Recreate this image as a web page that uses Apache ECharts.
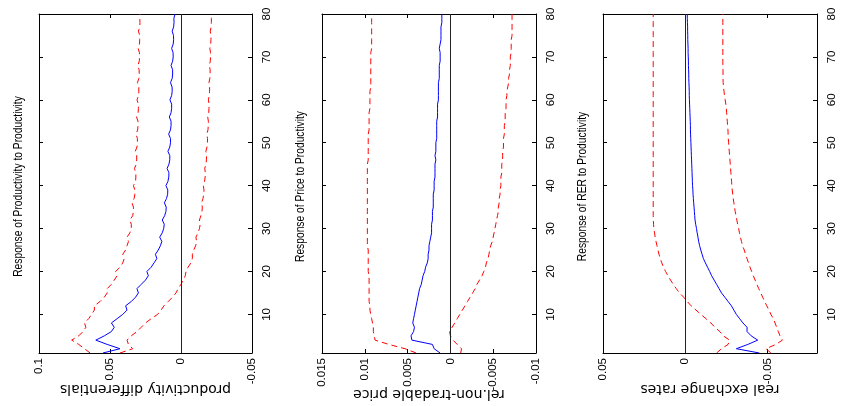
<!DOCTYPE html>
<html>
<head>
<meta charset="utf-8">
<script src="https://cdn.jsdelivr.net/npm/echarts@6/dist/echarts.min.js"></script>
<style>html,body{margin:0;padding:0;background:#fff;}#c{width:842px;height:406px;}</style>
</head>
<body>
<div id="c"></div>
<script>
// Horizons (quarters after shock)
const horizons = Array.from({length: 80}, (_, i) => i + 1);
const horizonTicks = [10, 20, 30, 40, 50, 60, 70, 80];

// Panel 1: Response of Productivity to Productivity
const prodIrf = [
  0.055, 0.043, 0.052, 0.060, 0.054, 0.049, 0.047, 0.049, 0.045, 0.041,
  0.038, 0.039, 0.035, 0.032, 0.030, 0.031, 0.028, 0.025, 0.023, 0.024,
  0.021, 0.019, 0.017, 0.018, 0.016, 0.0145, 0.0135, 0.0150, 0.0132, 0.0122,
  0.0118, 0.0132, 0.0115, 0.0106, 0.0104, 0.0117, 0.0102, 0.0094, 0.0093, 0.0106,
  0.0092, 0.0086, 0.0085, 0.0098, 0.0085, 0.0079, 0.0079, 0.0092, 0.0079, 0.0074,
  0.0074, 0.0087, 0.0074, 0.0070, 0.0070, 0.0082, 0.0070, 0.0066, 0.0066, 0.0078,
  0.0066, 0.0062, 0.0063, 0.0074, 0.0062, 0.0059, 0.0059, 0.0070, 0.0059, 0.0055,
  0.0056, 0.0066, 0.0055, 0.0052, 0.0053, 0.0062, 0.0052, 0.0049, 0.0050, 0.0042
];
const prodUpper = [
  0.064, 0.068, 0.072, 0.077, 0.072, 0.069, 0.067, 0.068, 0.065, 0.063,
  0.061, 0.061, 0.057, 0.054, 0.052, 0.052, 0.049, 0.047, 0.045, 0.046,
  0.043, 0.041, 0.040, 0.041, 0.039, 0.038, 0.037, 0.038, 0.036, 0.035,
  0.035, 0.036, 0.034, 0.0335, 0.0335, 0.0345, 0.033, 0.0325, 0.0325, 0.0335,
  0.032, 0.0318, 0.0318, 0.0328, 0.0315, 0.0312, 0.0312, 0.0322, 0.031, 0.0307,
  0.0307, 0.0317, 0.0305, 0.0303, 0.0303, 0.0313, 0.0302, 0.0300, 0.0300, 0.0310,
  0.0299, 0.0297, 0.0297, 0.0307, 0.0296, 0.0294, 0.0295, 0.0304, 0.0294, 0.0292,
  0.0293, 0.0302, 0.0292, 0.0291, 0.0291, 0.0300, 0.0290, 0.0289, 0.0290, 0.0290
];
const prodLower = [
  0.043, 0.034, 0.037, 0.038, 0.035, 0.031, 0.028, 0.025, 0.021, 0.0165,
  0.014, 0.012, 0.009, 0.006, 0.0035, 0.002, 0.000, -0.0015, -0.003, -0.0035,
  -0.005, -0.007, -0.008, -0.008, -0.009, -0.0103, -0.011, -0.0105, -0.012, -0.013,
  -0.0135, -0.013, -0.014, -0.0148, -0.015, -0.0145, -0.0155, -0.016, -0.0162, -0.0157,
  -0.0166, -0.017, -0.0172, -0.0167, -0.0176, -0.0179, -0.018, -0.0175, -0.0183, -0.0186,
  -0.0187, -0.0182, -0.019, -0.0192, -0.0193, -0.0188, -0.0195, -0.0197, -0.0198, -0.0193,
  -0.0199, -0.0201, -0.0202, -0.0197, -0.0203, -0.0205, -0.0205, -0.0200, -0.0206, -0.0208,
  -0.0208, -0.0203, -0.0209, -0.0211, -0.0211, -0.0206, -0.0212, -0.0214, -0.0214, -0.0216
];

// Panel 2: Response of Price to Productivity
const priceIrf = [
  0.0012, 0.0019, 0.0021, 0.0045, 0.0046, 0.0043, 0.0042, 0.0044, 0.0043, 0.0042,
  0.0041, 0.0040, 0.0039, 0.0038, 0.0037, 0.0036, 0.0034, 0.0033, 0.0032, 0.0030,
  0.0029, 0.0027, 0.0026, 0.0026, 0.0025, 0.0025, 0.0024, 0.0023, 0.0022, 0.0022,
  0.0022, 0.0021, 0.0021, 0.0021, 0.0020, 0.0020, 0.0020, 0.0020, 0.0019, 0.0019,
  0.0019, 0.0018, 0.0018, 0.0018, 0.0018, 0.0017, 0.0018, 0.0017, 0.0017, 0.0017,
  0.0016, 0.0016, 0.0016, 0.0016, 0.0016, 0.0015, 0.0015, 0.0015, 0.0015, 0.0014,
  0.0014, 0.0014, 0.0014, 0.0014, 0.0013, 0.0013, 0.0013, 0.0013, 0.0012, 0.0012,
  0.0012, 0.0013, 0.0012, 0.0011, 0.0011, 0.0011, 0.0011, 0.0010, 0.0010, 0.0010
];
const priceUpper = [
  0.0040, 0.0053, 0.0072, 0.0088, 0.0089, 0.0090, 0.0090, 0.0091, 0.0092, 0.0093,
  0.0094, 0.0094, 0.0095, 0.0095, 0.0095, 0.0095, 0.0095, 0.0095, 0.0095, 0.0096,
  0.0096, 0.0096, 0.0096, 0.0096, 0.0096, 0.0097, 0.0097, 0.0097, 0.0097, 0.0097,
  0.0097, 0.0097, 0.0097, 0.0097, 0.0097, 0.0097, 0.0097, 0.0097, 0.0097, 0.0097,
  0.0097, 0.0097, 0.0097, 0.0097, 0.0097, 0.0096, 0.0096, 0.0096, 0.0096, 0.0096,
  0.0096, 0.0096, 0.0095, 0.0095, 0.0095, 0.0095, 0.0095, 0.0094, 0.0094, 0.0094,
  0.0094, 0.0094, 0.0093, 0.0093, 0.0093, 0.0093, 0.0093, 0.0093, 0.0093, 0.0093,
  0.0093, 0.0092, 0.0092, 0.0092, 0.0092, 0.0092, 0.0092, 0.0092, 0.0092, 0.0092
];
const priceLower = [
  -0.0012, -0.0013, -0.0008, -0.0003, 0.0000, 0.0001, -0.0002, -0.0005, -0.0008, -0.0011,
  -0.0014, -0.0017, -0.0020, -0.0023, -0.0026, -0.0029, -0.0031, -0.0034, -0.0037, -0.0039,
  -0.0041, -0.0042, -0.0044, -0.0045, -0.0046, -0.0047, -0.0049, -0.0050, -0.0051, -0.0052,
  -0.0053, -0.0054, -0.0055, -0.0056, -0.0056, -0.0057, -0.0057, -0.0058, -0.0058, -0.0059,
  -0.0059, -0.0059, -0.0060, -0.0060, -0.0060, -0.0061, -0.0061, -0.0061, -0.0062, -0.0062,
  -0.0062, -0.0063, -0.0063, -0.0063, -0.0064, -0.0064, -0.0064, -0.0065, -0.0065, -0.0065,
  -0.0066, -0.0066, -0.0067, -0.0068, -0.0068, -0.0069, -0.0069, -0.0070, -0.0070, -0.0070,
  -0.0071, -0.0071, -0.0071, -0.0071, -0.0072, -0.0072, -0.0072, -0.0072, -0.0072, -0.0072
];

// Panel 3: Response of RER to Productivity
const rerIrf = [
  -0.045, -0.031, -0.038, -0.044, -0.040, -0.0375, -0.0375, -0.035, -0.033, -0.031,
  -0.0295, -0.028, -0.026, -0.024, -0.022, -0.0205, -0.019, -0.0175, -0.016, -0.0148,
  -0.0135, -0.0122, -0.011, -0.0102, -0.0094, -0.0087, -0.0081, -0.0077, -0.0072, -0.0068,
  -0.0063, -0.0059, -0.0057, -0.0055, -0.0053, -0.0051, -0.0049, -0.0047, -0.0046, -0.0044,
  -0.0043, -0.0042, -0.0041, -0.0040, -0.0039, -0.0038, -0.0037, -0.0036, -0.0035, -0.0034,
  -0.0033, -0.0032, -0.0031, -0.0031, -0.0030, -0.0029, -0.0028, -0.0027, -0.0026, -0.0025,
  -0.0024, -0.0024, -0.0023, -0.0022, -0.0021, -0.0021, -0.0020, -0.0019, -0.0019, -0.0018,
  -0.0017, -0.0017, -0.0016, -0.0015, -0.0015, -0.0014, -0.0014, -0.0013, -0.0012, -0.0012
];
const rerUpper = [
  -0.019, -0.022, -0.026, -0.027, -0.023, -0.021, -0.018, -0.0155, -0.0125, -0.0095,
  -0.0065, -0.0035, -0.0012, 0.0010, 0.0035, 0.0055, 0.0073, 0.0090, 0.0105, 0.0120,
  0.0132, 0.0143, 0.0152, 0.0160, 0.0166, 0.0172, 0.0178, 0.0183, 0.0187, 0.0191,
  0.0193, 0.0194, 0.0195, 0.0195, 0.0195, 0.0195, 0.0195, 0.0195, 0.0195, 0.0195,
  0.0195, 0.0195, 0.0195, 0.0195, 0.0195, 0.0195, 0.0195, 0.0195, 0.0195, 0.0195,
  0.0195, 0.0195, 0.0195, 0.0195, 0.0195, 0.0195, 0.0195, 0.0195, 0.0195, 0.0195,
  0.0195, 0.0195, 0.0195, 0.0195, 0.0195, 0.0195, 0.0195, 0.0195, 0.0195, 0.0195,
  0.0195, 0.0195, 0.0195, 0.0195, 0.0195, 0.0195, 0.0195, 0.0195, 0.0195, 0.0195
];
const rerLower = [
  -0.052, -0.049, -0.055, -0.059, -0.0575, -0.0565, -0.0555, -0.0545, -0.0535, -0.052,
  -0.0508, -0.0495, -0.0482, -0.047, -0.0458, -0.0446, -0.0435, -0.0424, -0.0413, -0.0403,
  -0.0393, -0.0384, -0.0375, -0.0366, -0.0358, -0.0348, -0.0341, -0.0335, -0.0329, -0.0324,
  -0.0318, -0.0313, -0.0308, -0.0303, -0.0299, -0.0295, -0.0291, -0.0288, -0.0285, -0.0283,
  -0.0281, -0.0279, -0.0277, -0.0275, -0.0273, -0.0271, -0.0269, -0.0267, -0.0265, -0.0263,
  -0.0261, -0.0260, -0.0259, -0.0257, -0.0255, -0.0253, -0.0251, -0.0249, -0.0246, -0.0242,
  -0.0238, -0.0235, -0.0232, -0.0230, -0.0229, -0.0229, -0.0229, -0.0228, -0.0228, -0.0228,
  -0.0228, -0.0228, -0.0228, -0.0228, -0.0228, -0.0228, -0.0228, -0.0228, -0.0228, -0.0228
];

// Panel titles, axis labels and value-axis ticks
const titles = ['Response of Productivity to Productivity', 'Response of Price to Productivity', 'Response of RER to Productivity'];
const valueLabels = ['productivity differentials', 'rel.non-tradable price', 'real exchange rates'];
const valueTicks = [[-0.05, 0, 0.05, 0.1], [-0.01, -0.005, 0, 0.005, 0.01, 0.015], [-0.05, 0, 0.05]];
const valueRanges = [[-0.05, 0.1], [-0.01, 0.015], [-0.08, 0.05]];
const irfSeries = [prodIrf, priceIrf, rerIrf];
const upperSeries = [prodUpper, priceUpper, rerUpper];
const lowerSeries = [prodLower, priceLower, rerLower];

// ---- layout / style (not data) ----
const layout = [
  {left: 39, width: 213, titleX: 19, nameGap: 29},
  {left: 322, width: 214, titleX: 301, nameGap: 34},
  {left: 603, width: 214, titleX: 583, nameGap: 29}
];
const TOP = 14, HEIGHT = 339;
const FONT = "'Liberation Sans', Arial, sans-serif";
const fmt = v => { const r = Math.round(v * 100000) / 100000; return String(r); };

const grids = [], xAxes = [], yAxes = [], series = [], graphics = [];
layout.forEach((L, i) => {
  grids.push({left: L.left, top: TOP, width: L.width, height: HEIGHT, containLabel: false, outerBoundsMode: 'none'});
  const [mn, mx] = valueRanges[i];
  const ticks = valueTicks[i];
  xAxes.push({
    gridIndex: i, type: 'value', inverse: true, min: mn, max: mx, position: 'bottom',
    axisLine: {show: true, onZero: false, lineStyle: {color: '#000', width: 1}},
    axisTick: {show: true, inside: true, length: 4, customValues: ticks, lineStyle: {color: '#000'}},
    axisLabel: {show: true, rotate: 90, margin: 5, customValues: ticks, formatter: fmt,
      fontSize: 11.5, fontFamily: FONT, color: '#000'},
    splitLine: {show: false},
    name: valueLabels[i], nameLocation: 'middle', nameGap: L.nameGap, nameRotate: 180, nameMoveOverlap: false,
    nameTextStyle: {fontSize: 14, fontFamily: 'DejaVu Sans', color: '#000'}
  });
  xAxes.push({
    gridIndex: i, type: 'value', inverse: true, min: mn, max: mx, position: 'top',
    axisLine: {show: true, onZero: false, lineStyle: {color: '#000', width: 1}},
    axisTick: {show: true, inside: true, length: 4, customValues: ticks, lineStyle: {color: '#000'}},
    axisLabel: {show: false}, splitLine: {show: false}
  });
  yAxes.push({
    gridIndex: i, type: 'value', min: 1, max: 80, position: 'right',
    axisLine: {show: true, onZero: false, lineStyle: {color: '#000', width: 1}},
    axisTick: {show: true, inside: true, length: 4, customValues: horizonTicks, lineStyle: {color: '#000'}},
    axisLabel: {show: true, rotate: 90, margin: 9, customValues: horizonTicks,
      fontSize: 11.5, fontFamily: FONT, color: '#000'},
    splitLine: {show: false}
  });
  yAxes.push({
    gridIndex: i, type: 'value', min: 1, max: 80, position: 'left',
    axisLine: {show: true, onZero: false, lineStyle: {color: '#000', width: 1}},
    axisTick: {show: true, inside: true, length: 4, customValues: horizonTicks, lineStyle: {color: '#000'}},
    axisLabel: {show: false}, splitLine: {show: false}
  });
  const mk = (arr) => horizons.map((h, k) => [arr[k], h]);
  series.push({
    type: 'line', xAxisIndex: 2 * i, yAxisIndex: 2 * i, data: mk(upperSeries[i]),
    symbol: 'none', silent: true, lineStyle: {color: '#ff0000', width: 1, type: [6, 4]}, z: 3
  });
  series.push({
    type: 'line', xAxisIndex: 2 * i, yAxisIndex: 2 * i, data: mk(lowerSeries[i]),
    symbol: 'none', silent: true, lineStyle: {color: '#ff0000', width: 1, type: [6, 4]}, z: 3
  });
  series.push({
    type: 'line', xAxisIndex: 2 * i, yAxisIndex: 2 * i, data: mk(irfSeries[i]),
    symbol: 'none', silent: true, lineStyle: {color: '#0000ff', width: 1}, z: 4,
    markLine: {silent: true, symbol: 'none', label: {show: false}, animation: false,
      lineStyle: {color: '#222', type: 'solid', width: 1}, data: [{xAxis: 0}]}
  });
  graphics.push({
    type: 'text', x: L.titleX, y: TOP + HEIGHT / 2 + 3, rotation: Math.PI / 2, scaleX: 0.82, scaleY: 1,
    style: {text: titles[i], fontSize: 12.5, fontFamily: FONT, fill: '#000', align: 'center', verticalAlign: 'middle'}
  });
});

const chart = echarts.init(document.getElementById('c'), null, {renderer: 'canvas'});
chart.setOption({
  animation: false,
  backgroundColor: '#fff',
  grid: grids, xAxis: xAxes, yAxis: yAxes, series: series, graphic: graphics
});
</script>
</body>
</html>
